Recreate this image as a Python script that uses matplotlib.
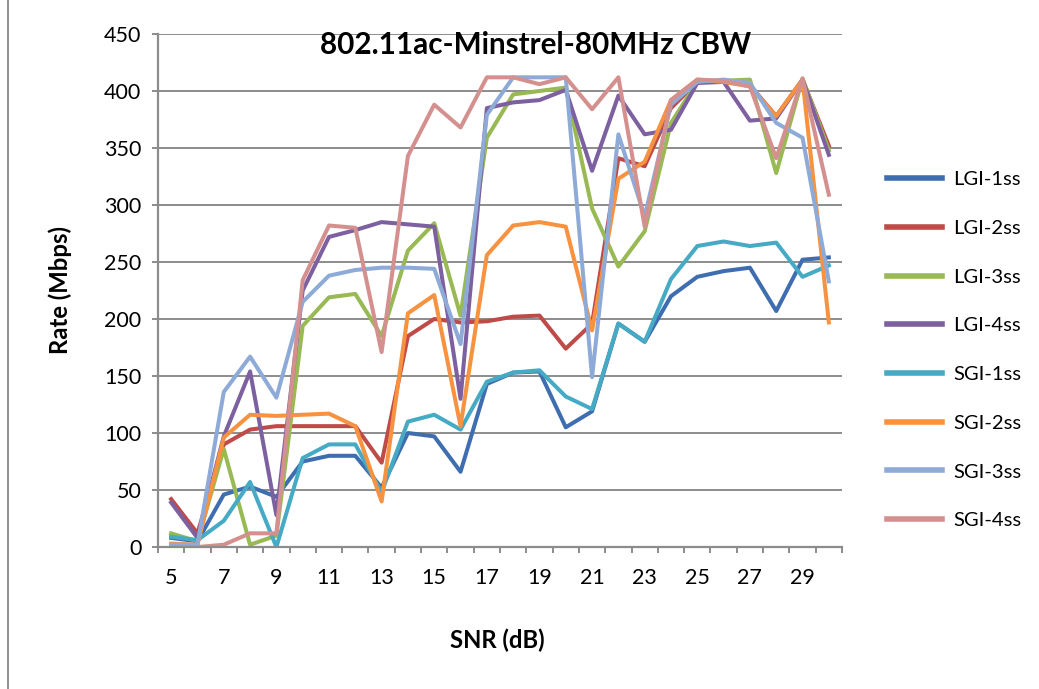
import numpy as np
import matplotlib.pyplot as plt
from matplotlib.lines import Line2D

plt.rcParams['font.family'] = ['Lato', 'DejaVu Sans']

# SNR (dB) por categoría y tasas medidas (Mbps)
snr = list(range(5, 31))

lgi_1ss = [8, 5, 46, 53, 44, 75, 80, 80, 52, 100, 97, 66, 143, 153, 154, 105, 119, 196, 180, 220, 237, 242, 245, 207, 252, 254]
lgi_2ss = [42, 12, 90, 103, 106, 106, 106, 106, 74, 185, 200, 197, 198, 202, 203, 174, 196, 341, 334, 385, 408, 408, 405, 378, 410, 352]
lgi_3ss = [12, 5, 86, 2, 10, 194, 219, 222, 185, 260, 284, 203, 359, 397, 400, 403, 297, 246, 277, 372, 408, 409, 410, 328, 411, 348]
lgi_4ss = [39, 8, 97, 154, 28, 225, 272, 278, 285, 283, 281, 130, 385, 390, 392, 401, 330, 396, 362, 366, 407, 408, 374, 376, 410, 344]
sgi_1ss = [9, 6, 23, 57, 0, 78, 90, 90, 48, 110, 116, 103, 145, 153, 155, 132, 121, 196, 180, 235, 264, 268, 264, 267, 237, 247]
sgi_2ss = [3, 2, 96, 116, 115, 116, 117, 106, 40, 205, 221, 106, 256, 282, 285, 281, 190, 323, 338, 392, 410, 408, 404, 378, 410, 197]
sgi_3ss = [2, 2, 136, 167, 131, 215, 238, 243, 245, 245, 244, 178, 379, 412, 412, 412, 149, 362, 290, 388, 408, 410, 407, 372, 359, 233]
sgi_4ss = [0, 0, 2, 12, 12, 234, 282, 280, 171, 343, 388, 368, 412, 412, 406, 412, 384, 412, 281, 392, 410, 409, 404, 341, 411, 309]

names = ['LGI-1ss', 'LGI-2ss', 'LGI-3ss', 'LGI-4ss', 'SGI-1ss', 'SGI-2ss', 'SGI-3ss', 'SGI-4ss']
series = [lgi_1ss, lgi_2ss, lgi_3ss, lgi_4ss, sgi_1ss, sgi_2ss, sgi_3ss, sgi_4ss]
colors = ['#3E6EB0', '#BE4B48', '#98B954', '#7D60A0', '#46AAC5', '#F69240', '#8EABD8', '#D4908E']

fig = plt.figure(figsize=(10.39, 6.89), dpi=100)
ax = fig.add_axes([158/1039, 1 - 547/689, (842 - 158)/1039, (547 - 34)/689])

x = np.arange(len(snr))
for vals, name, c in zip(series, names, colors):
    ax.plot(x, vals, color=c, lw=2.9, label=name, solid_joinstyle='round')

# ejes estilo hoja de cálculo
ax.set_xlim(-0.5, len(snr) - 0.5)
ax.set_ylim(0, 450)
ax.set_yticks(np.arange(0, 451, 50))
ax.yaxis.grid(True, color='#8C8C8C', lw=1.4)
ax.set_axisbelow(True)
for s in ['top', 'right']:
    ax.spines[s].set_visible(False)
for s in ['left', 'bottom']:
    ax.spines[s].set_color('#8C8C8C')
    ax.spines[s].set_linewidth(1.6)

ax.set_xticks(x[::2])
ax.set_xticklabels([str(v) for v in snr[::2]])
ax.set_xticks(np.arange(-0.5, len(snr), 1), minor=True)
ax.tick_params(axis='x', which='major', length=0, pad=15, labelsize=15.5)
ax.tick_params(axis='x', which='minor', length=4, width=1.4, color='#8C8C8C', direction='out')
ax.tick_params(axis='y', length=4, width=1.4, color='#8C8C8C', pad=8, labelsize=15.5)

fig.text(536/1039, 1 - 45/689, '802.11ac-Minstrel-80MHz CBW', ha='center', va='center',
         fontsize=21.3, fontweight='bold')
fig.text(60/1039, 1 - 290/689, 'Rate (Mbps)', rotation=90, ha='center', va='center',
         fontsize=17.2, fontweight='bold')
fig.text(497/1039, 1 - 640/689, 'SNR (dB)', ha='center', va='center',
         fontsize=17.2, fontweight='bold')

leg = fig.legend(loc='upper left', bbox_to_anchor=(869/1039, 1 - 153/689), frameon=False,
                 fontsize=14.5, handlelength=2.7, handletextpad=0.6, labelspacing=1.57)
for h in leg.get_lines():
    h.set_linewidth(4)

# borde izquierdo del área del gráfico
fig.add_artist(Line2D([8/1039, 8/1039], [0, 1], color='#7F7F7F', lw=1.2))

plt.savefig('out.png', dpi=100)
